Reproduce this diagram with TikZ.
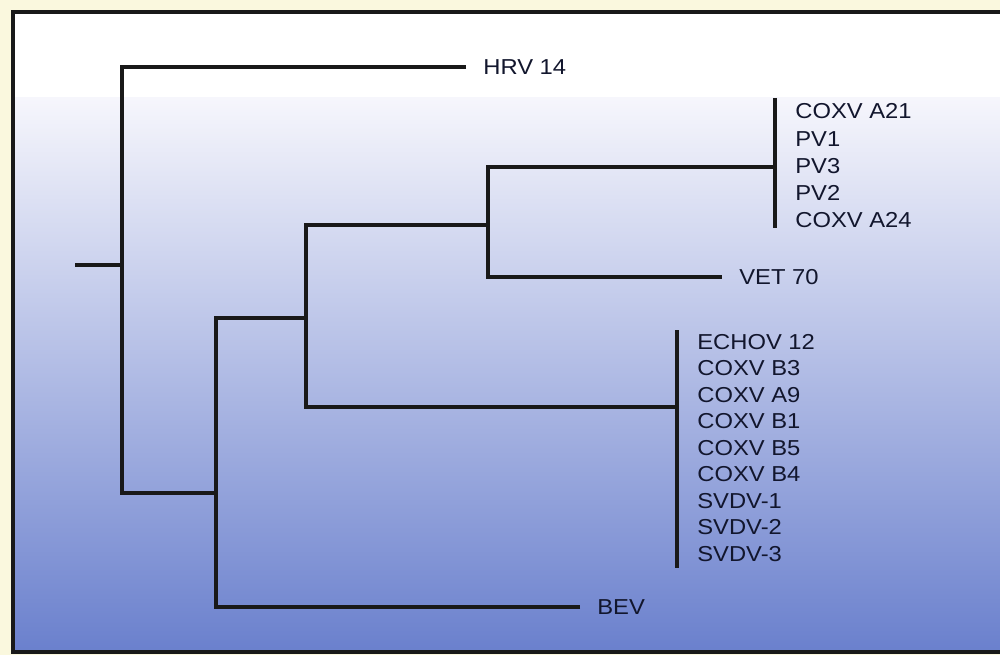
\documentclass[tikz,border=0pt]{standalone}
\usepackage{fontspec}
\setmainfont{Liberation Sans}[FakeStretch=1.1]
\usepackage{xcolor}
\usetikzlibrary{positioning}
\definecolor{cladecream}{RGB}{250,248,222}
\definecolor{cladetop}{RGB}{246,246,252}
\definecolor{cladebottom}{RGB}{106,128,205}
\definecolor{cladeink}{RGB}{18,22,45}
\tikzset{
    cladeframe/.style={draw=black!90, line width=2.3pt},
    cladebranch/.style={draw=black!90, line width=2.1pt},
    cladelabel/.style={anchor=west, inner sep=0pt, text=cladeink, font=\fontsize{12.3}{14}\selectfont},
    cladetip/.style={right=0.34cm of #1, anchor=west}
}

\begin{document}
\begin{tikzpicture}[x=0.02cm, y=-0.02cm]
    \useasboundingbox (0,0) rectangle (1000,655);
    % background and frame
    \fill[cladecream] (0,0) rectangle (1000,655);
    \fill[white] (13,12) rectangle (1000,100);
    \shade[top color=cladetop, bottom color=cladebottom] (13,98) rectangle (1000,652);
    \draw[cladeframe] (1003,12) -- (13,12) -- (13,652) -- (1003,652);

    % junctions
    \coordinate (root) at (75,265);
    \coordinate (n0) at (122,265);
    \coordinate (n1) at (216,493);
    \coordinate (n2) at (306,318);
    \coordinate (n3) at (488,225);
    \coordinate (polio) at (775,167);
    \coordinate (echo) at (677,407);

    % tips
    \coordinate (hrvtip) at (466,67);
    \coordinate (bevtip) at (580,607);
    \coordinate (vettip) at (722,277);

    % labels
    \node[cladelabel, cladetip=hrvtip] (hrv) {HRV 14};
    \node[cladelabel, cladetip=bevtip] (bev) {BEV};
    \node[cladelabel, cladetip=vettip] (vet) {VET 70};

    \node[cladelabel] (a21) at (795,111) {COXV A21};
    \node[cladelabel] (pv1) at (795,139) {PV1};
    \node[cladelabel] (pv3) at (795,166) {PV3};
    \node[cladelabel] (pv2) at (795,193) {PV2};
    \node[cladelabel] (a24) at (795,220) {COXV A24};

    \node[cladelabel] (echo12) at (697,342) {ECHOV 12};
    \node[cladelabel] (b3) at (697,368) {COXV B3};
    \node[cladelabel] (a9) at (697,395) {COXV A9};
    \node[cladelabel] (b1) at (697,421) {COXV B1};
    \node[cladelabel] (b5) at (697,448) {COXV B5};
    \node[cladelabel] (b4) at (697,474) {COXV B4};
    \node[cladelabel] (svdv1) at (697,501) {SVDV-1};
    \node[cladelabel] (svdv2) at (697,527) {SVDV-2};
    \node[cladelabel] (svdv3) at (697,554) {SVDV-3};

    % branches
    \draw[cladebranch] (root) -- (n0);
    \draw[cladebranch] (hrvtip) -| (n0) |- (n1);
    \draw[cladebranch] (bevtip) -| (n1) |- (n2);
    \draw[cladebranch] (echo) -| (n2) |- (n3);
    \draw[cladebranch] (polio) -| (n3) |- (vettip);
    \draw[cladebranch] (polio |- 0,98) -- (polio |- 0,228);
    \draw[cladebranch] (echo |- 0,330) -- (echo |- 0,568);
\end{tikzpicture}
\end{document}
